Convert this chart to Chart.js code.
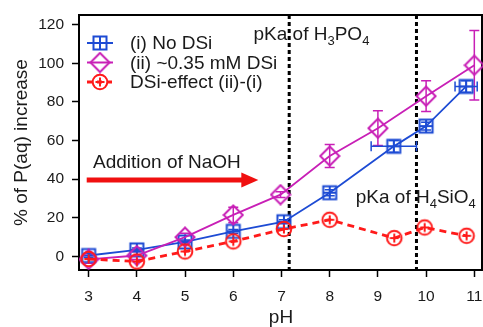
<!DOCTYPE html>
<html>
<head>
<meta charset="utf-8">
<script src="https://cdn.jsdelivr.net/npm/chart.js@4.4.1/dist/chart.umd.min.js"></script>
<style>
  html, body { margin: 0; padding: 0; background: #fff; }
  #wrap { width: 483px; height: 327px; }
</style>
</head>
<body>
<div id="wrap"><canvas id="myChart" width="483" height="327"></canvas></div>
<script>
// data
var xTicks = [3, 4, 5, 6, 7, 8, 9, 10, 11];
var yTicks = [0, 20, 40, 60, 80, 100, 120];

var phNoDsi = [3, 4, 5, 6, 7.05, 8, 9.33, 10, 10.83];
var noDsi = [0.5, 3.4, 7.5, 13, 18, 33, 57, 67.5, 88];
var noDsiYErr = [1, 1, 1, 1, 1, 1.5, 3, 2, 3];
var noDsiXErr = [0, 0, 0, 0, 0, 0, 0.47, 0, 0.23];

var phDsi = [3, 4, 5, 6, 6.98, 8, 9, 10, 11];
var dsi = [-1.5, 0.5, 10, 21.5, 32, 52, 66.4, 83, 99];
var dsiYErr = [2, 2, 2, 4, 1.5, 6, 9, 8, 18];

var phEffect = [3, 4, 5, 6, 7.05, 8, 9.34, 9.97, 10.84];
var effect = [-1.3, -2.6, 2.6, 7.8, 14.2, 19, 9.5, 15, 10.7];

var pkaLines = [7.16, 9.8];

var BLUE = "#1d4bd4";
var PINK = "#c81fb6";
var RED = "#ff1a1a";
var FONT = "'Liberation Sans', Arial, sans-serif";

function makeMarker(kind, color) {
    var c = document.createElement("canvas");
    c.width = 22;
    c.height = 22;
    var g = c.getContext("2d");
    g.strokeStyle = color;
    g.lineWidth = 2;
    if (kind === "square") {
        g.strokeRect(4.5, 4.5, 13, 13);
        g.beginPath();
        g.moveTo(11, 5); g.lineTo(11, 17);
        g.moveTo(5, 11); g.lineTo(17, 11);
        g.stroke();
    } else if (kind === "diamond") {
        g.beginPath();
        g.moveTo(11, 1.5); g.lineTo(20.5, 11); g.lineTo(11, 20.5); g.lineTo(1.5, 11);
        g.closePath();
        g.stroke();
    } else {
        g.beginPath();
        g.arc(11, 11, 7.3, 0, Math.PI * 2);
        g.stroke();
        g.beginPath();
        g.moveTo(11, 6.5); g.lineTo(11, 15.5);
        g.moveTo(6.5, 11); g.lineTo(15.5, 11);
        g.stroke();
    }
    return c;
}

var markBlue = makeMarker("square", BLUE);
var markPink = makeMarker("diamond", PINK);
var markRed = makeMarker("circle", RED);

function pts(xs, ys) {
    return xs.map(function (x, i) { return { x: x, y: ys[i] }; });
}

function drawRich(ctx, parts, x, y) {
    parts.forEach(function (p) {
        ctx.font = (p[1] ? "13px " : "19px ") + FONT;
        ctx.fillText(p[0], x, y + (p[1] ? 5 : 0));
        x += ctx.measureText(p[0]).width;
    });
}

var extras = {
    id: "extras",
    beforeDatasetsDraw: function (chart) {
        var ctx = chart.ctx;
        var a = chart.chartArea;
        var xs = chart.scales.x;
        var ys = chart.scales.y;
        ctx.save();
        // frame top and right
        ctx.strokeStyle = "#000";
        ctx.lineWidth = 2;
        ctx.beginPath();
        ctx.moveTo(a.left, a.top);
        ctx.lineTo(a.right - 1, a.top);
        ctx.lineTo(a.right - 1, a.bottom);
        ctx.stroke();
        // pKa lines
        ctx.setLineDash([4, 3]);
        ctx.lineWidth = 3;
        pkaLines.forEach(function (v) {
            var px = xs.getPixelForValue(v);
            ctx.beginPath();
            ctx.moveTo(px, a.top);
            ctx.lineTo(px, a.bottom);
            ctx.stroke();
        });
        ctx.setLineDash([]);
        // error bars
        function bars(xv, yv, yerr, xerr, color) {
            ctx.strokeStyle = color;
            ctx.lineWidth = 1.5;
            xv.forEach(function (x, i) {
                var px = xs.getPixelForValue(x);
                var py = ys.getPixelForValue(yv[i]);
                var e = yerr ? yerr[i] : 0;
                if (e > 0) {
                    var t = ys.getPixelForValue(yv[i] + e);
                    var b = ys.getPixelForValue(yv[i] - e);
                    ctx.beginPath();
                    ctx.moveTo(px, t); ctx.lineTo(px, b);
                    ctx.moveTo(px - 5, t); ctx.lineTo(px + 5, t);
                    ctx.moveTo(px - 5, b); ctx.lineTo(px + 5, b);
                    ctx.stroke();
                }
                var ex = xerr ? xerr[i] : 0;
                if (ex > 0) {
                    var l = xs.getPixelForValue(x - ex);
                    var r = Math.min(xs.getPixelForValue(x + ex), a.right - 2);
                    ctx.beginPath();
                    ctx.moveTo(l, py); ctx.lineTo(r, py);
                    ctx.moveTo(l, py - 5); ctx.lineTo(l, py + 5);
                    ctx.moveTo(r, py - 5); ctx.lineTo(r, py + 5);
                    ctx.stroke();
                }
            });
        }
        bars(phDsi, dsi, dsiYErr, null, PINK);
        bars(phNoDsi, noDsi, noDsiYErr, noDsiXErr, BLUE);
        ctx.restore();
    },
    afterDatasetsDraw: function (chart) {
        var ctx = chart.ctx;
        var xs = chart.scales.x;
        var ys = chart.scales.y;
        ctx.save();
        ctx.fillStyle = "#1a1a1a";
        ctx.textBaseline = "alphabetic";
        drawRich(ctx, [["pKa of H", 0], ["3", 1], ["PO", 0], ["4", 1]],
            xs.getPixelForValue(6.42), ys.getPixelForValue(112));
        drawRich(ctx, [["pKa of H", 0], ["4", 1], ["SiO", 0], ["4", 1]],
            xs.getPixelForValue(8.54), ys.getPixelForValue(27.8));
        ctx.font = "19px " + FONT;
        ctx.fillText("Addition of NaOH", xs.getPixelForValue(3.09), ys.getPixelForValue(45.6));

        // NaOH arrow
        var x0 = xs.getPixelForValue(2.96);
        var x1 = xs.getPixelForValue(6.52);
        var ay = ys.getPixelForValue(39.6);
        ctx.fillStyle = "#f01010";
        ctx.strokeStyle = "#f01010";
        ctx.lineWidth = 5;
        ctx.beginPath();
        ctx.moveTo(x0, ay);
        ctx.lineTo(x1 - 14, ay);
        ctx.stroke();
        ctx.beginPath();
        ctx.moveTo(x1, ay);
        ctx.lineTo(x1 - 17, ay - 7.5);
        ctx.lineTo(x1 - 17, ay + 7.5);
        ctx.closePath();
        ctx.fill();

        // legend
        var rows = [
            { text: "(i) No DSi", color: BLUE, mark: markBlue, dash: [], w: 2 },
            { text: "(ii) ~0.35 mM DSi", color: PINK, mark: markPink, dash: [], w: 2 },
            { text: "DSi-effect (ii)-(i)", color: RED, mark: markRed, dash: [5, 5], w: 2.8 }
        ];
        ctx.textBaseline = "middle";
        ctx.font = "19px " + FONT;
        rows.forEach(function (r, i) {
            var y = 43 + i * 19.5;
            ctx.strokeStyle = r.color;
            ctx.lineWidth = r.w;
            ctx.setLineDash(r.dash);
            ctx.beginPath();
            ctx.moveTo(87, y);
            ctx.lineTo(113, y);
            ctx.stroke();
            ctx.setLineDash([]);
            ctx.drawImage(r.mark, 100 - 11, y - 11);
            ctx.fillStyle = "#1a1a1a";
            ctx.fillText(r.text, 130, y + 1);
        });
        ctx.restore();
    }
};

var ctx = document.getElementById("myChart").getContext("2d");
var chart = new Chart(ctx, {
    type: "scatter",
    data: {
        datasets: [
            {
                label: "DSi-effect (ii)-(i)",
                data: pts(phEffect, effect),
                showLine: true,
                borderColor: RED,
                borderWidth: 2.8,
                borderDash: [7, 5],
                pointStyle: markRed,
                order: 1
            },
            {
                label: "(ii) ~0.35 mM DSi",
                data: pts(phDsi, dsi),
                showLine: true,
                borderColor: PINK,
                borderWidth: 1.8,
                pointStyle: markPink,
                order: 2
            },
            {
                label: "(i) No DSi",
                data: pts(phNoDsi, noDsi),
                showLine: true,
                borderColor: BLUE,
                borderWidth: 1.8,
                pointStyle: markBlue,
                order: 3
            }
        ]
    },
    options: {
        responsive: false,
        animation: false,
        layout: { autoPadding: false, padding: { top: 15, right: 0, left: 0, bottom: 0 } },
        plugins: {
            legend: { display: false },
            tooltip: { enabled: false }
        },
        scales: {
            x: {
                type: "linear",
                min: 2.8,
                max: 11.18,
                afterFit: function (s) { s.height = 57; s.paddingLeft = 0; s.paddingRight = 0; },
                afterBuildTicks: function (s) { s.ticks = xTicks.map(function (v) { return { value: v }; }); },
                grid: { drawOnChartArea: false, drawTicks: true, tickLength: 7, tickWidth: 1.5, tickColor: "#000" },
                border: { color: "#000", width: 2 },
                ticks: { color: "#1a1a1a", font: { family: FONT, size: 15.5 }, padding: 10 },
                title: { display: true, text: "pH", color: "#1a1a1a", font: { family: FONT, size: 19, lineHeight: 1 }, padding: { top: 0, bottom: 0 } }
            },
            y: {
                min: -7,
                max: 125,
                afterFit: function (s) { s.width = 79; s.paddingTop = 0; s.paddingBottom = 0; },
                afterBuildTicks: function (s) { s.ticks = yTicks.map(function (v) { return { value: v }; }); },
                grid: { drawOnChartArea: false, drawTicks: true, tickLength: 7, tickWidth: 1.5, tickColor: "#000" },
                border: { color: "#000", width: 2 },
                ticks: { color: "#1a1a1a", font: { family: FONT, size: 15.5 }, padding: 8 },
                title: { display: true, text: "% of P(aq) increase", color: "#1a1a1a", font: { family: FONT, size: 19 }, padding: { top: 10, bottom: 0 } }
            }
        }
    },
    plugins: [extras]
});
</script>
</body>
</html>
